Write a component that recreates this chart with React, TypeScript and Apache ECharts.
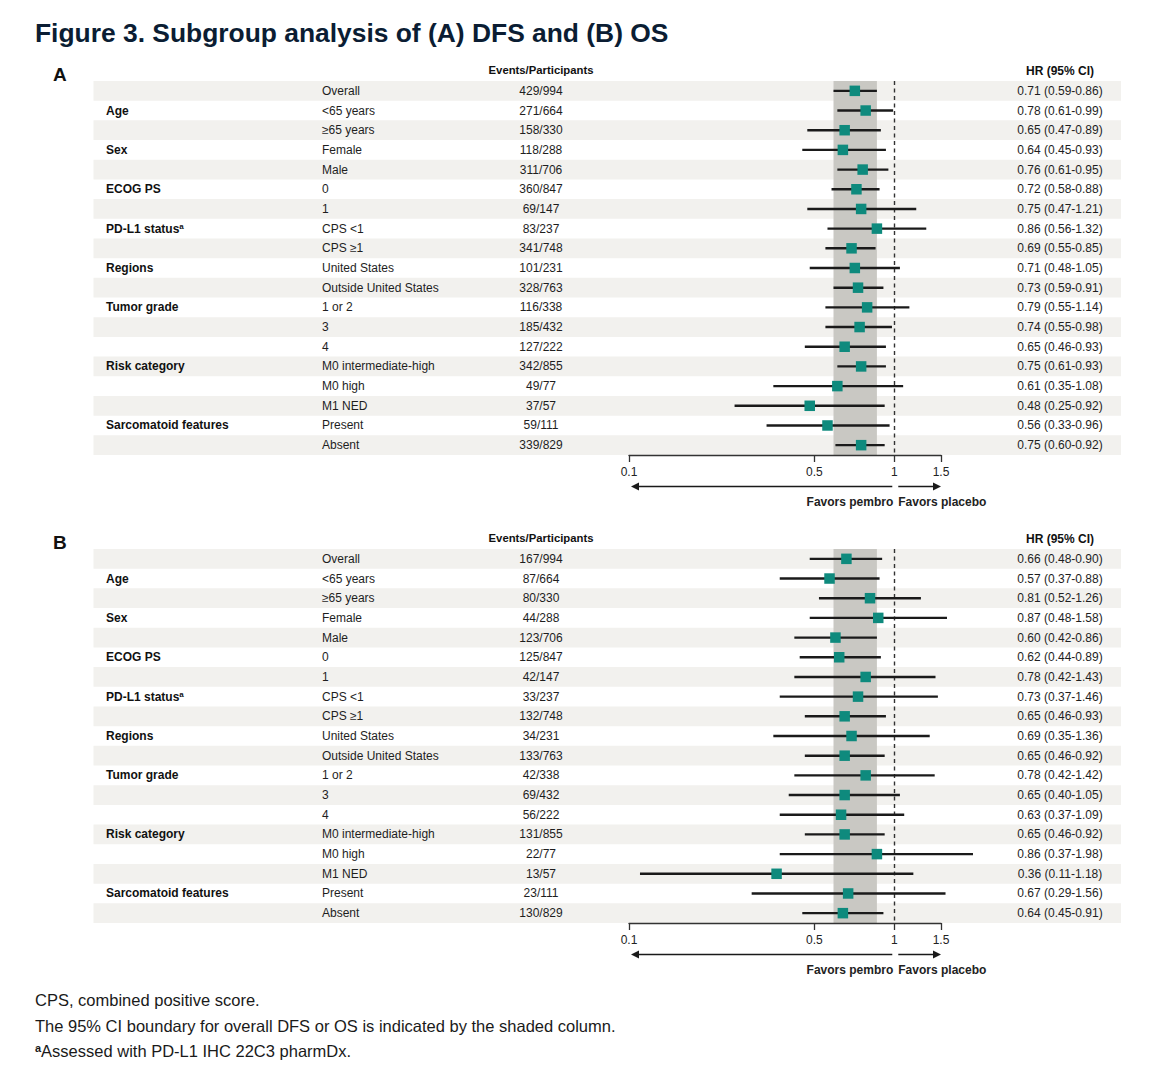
import React, { useEffect, useRef } from "react";
import * as echarts from "echarts";

// ---------- data ----------
const groups = ["", "Age", "", "Sex", "", "ECOG PS", "", "PD-L1 status", "", "Regions", "", "Tumor grade", "", "", "Risk category", "", "", "Sarcomatoid features", ""];
const groupSup = ["", "", "", "", "", "", "", "a", "", "", "", "", "", "", "", "", "", "", ""];
const subgroups = ["Overall", "<65 years", "≥65 years", "Female", "Male", "0", "1", "CPS <1", "CPS ≥1", "United States", "Outside United States", "1 or 2", "3", "4", "M0 intermediate-high", "M0 high", "M1 NED", "Present", "Absent"];

const eventsA = ["429/994", "271/664", "158/330", "118/288", "311/706", "360/847", "69/147", "83/237", "341/748", "101/231", "328/763", "116/338", "185/432", "127/222", "342/855", "49/77", "37/57", "59/111", "339/829"];
const hrA = [0.71, 0.78, 0.65, 0.64, 0.76, 0.72, 0.75, 0.86, 0.69, 0.71, 0.73, 0.79, 0.74, 0.65, 0.75, 0.61, 0.48, 0.56, 0.75];
const loA = [0.59, 0.61, 0.47, 0.45, 0.61, 0.58, 0.47, 0.56, 0.55, 0.48, 0.59, 0.55, 0.55, 0.46, 0.61, 0.35, 0.25, 0.33, 0.60];
const hiA = [0.86, 0.99, 0.89, 0.93, 0.95, 0.88, 1.21, 1.32, 0.85, 1.05, 0.91, 1.14, 0.98, 0.93, 0.93, 1.08, 0.92, 0.96, 0.92];

const eventsB = ["167/994", "87/664", "80/330", "44/288", "123/706", "125/847", "42/147", "33/237", "132/748", "34/231", "133/763", "42/338", "69/432", "56/222", "131/855", "22/77", "13/57", "23/111", "130/829"];
const hrB = [0.66, 0.57, 0.81, 0.87, 0.60, 0.62, 0.78, 0.73, 0.65, 0.69, 0.65, 0.78, 0.65, 0.63, 0.65, 0.86, 0.36, 0.67, 0.64];
const loB = [0.48, 0.37, 0.52, 0.48, 0.42, 0.44, 0.42, 0.37, 0.46, 0.35, 0.46, 0.42, 0.40, 0.37, 0.46, 0.37, 0.11, 0.29, 0.45];
const hiB = [0.90, 0.88, 1.26, 1.58, 0.86, 0.89, 1.43, 1.46, 0.93, 1.36, 0.92, 1.42, 1.05, 1.09, 0.92, 1.98, 1.18, 1.56, 0.91];

const shadeA = [0.59, 0.86];
const shadeB = [0.59, 0.86];
const xTicks = [0.1, 0.5, 1, 1.5];
const xRange = [0.1, 1.5];

const title = "Figure 3. Subgroup analysis of (A) DFS and (B) OS";
const footnotes = ["CPS, combined positive score.", "The 95% CI boundary for overall DFS or OS is indicated by the shaded column."];
const footnoteSup = ["a", "Assessed with PD-L1 IHC 22C3 pharmDx."];

// ---------- layout ----------
const FONT = "'Liberation Sans', Arial, Helvetica, sans-serif";
const BAND_L = 93.5;
const BAND_R = 1121;
const COL_GROUP = 106;
const COL_SUB = 322;
const COL_EVENTS = 541;
const COL_HR = 1060;
const TEAL = "#0e8a7d";
const BAND = "#f2f1ee";
const SHADE = "#c9c8c3";
const INK = "#1e1e1e";

const L = Math.log10;
const fmt = (v: number) => v.toFixed(2);

function panelSeries(k: number, events: string[], hr: number[], lo: number[], hi: number[], shade: number[]) {
  const common = { type: "custom", xAxisIndex: k, yAxisIndex: k, silent: true, encode: { x: 0, y: 1 } };
  return [
    {
      ...common,
      z: 0,
      data: subgroups.map((_, i) => [0, i]),
      renderItem: (params: any, api: any) => {
        const i = api.value(1);
        if (i % 2 === 1) return { type: "group", children: [] };
        const c = api.coord([0, i]);
        const h = api.size([0, 1])[1];
        return { type: "rect", shape: { x: BAND_L, y: c[1] - h / 2, width: BAND_R - BAND_L, height: h }, style: { fill: BAND } };
      },
    },
    {
      ...common,
      z: 1,
      data: [[L(shade[0]), 0, L(shade[1])]],
      renderItem: (params: any, api: any) => {
        const cs = params.coordSys;
        const x0 = api.coord([api.value(0), 0])[0];
        const x1 = api.coord([api.value(2), 0])[0];
        return { type: "rect", shape: { x: x0, y: cs.y, width: x1 - x0, height: cs.height }, style: { fill: SHADE } };
      },
    },
    {
      ...common,
      z: 2,
      data: [[L(1), 0]],
      renderItem: (params: any, api: any) => {
        const cs = params.coordSys;
        const x = Math.round(api.coord([api.value(0), 0])[0]) + 0.5;
        return { type: "line", shape: { x1: x, y1: cs.y, x2: x, y2: cs.y + cs.height }, style: { stroke: "#333", lineWidth: 1.4, lineDash: [4, 3.5] } };
      },
    },
    {
      ...common,
      z: 3,
      data: subgroups.map((_, i) => [0, i]),
      renderItem: (params: any, api: any) => {
        const i = api.value(1);
        const y = api.coord([0, i])[1];
        const children: any[] = [];
        const base = { fill: INK, fontFamily: FONT, fontSize: 12, verticalAlign: "middle" };
        if (groups[i]) {
          const sup = groupSup[i];
          children.push({
            type: "text",
            x: COL_GROUP,
            y,
            style: {
              ...base,
              align: "left",
              text: sup ? `{b|${groups[i]}}{s|${sup}}` : groups[i],
              fontWeight: "bold",
              fill: "#111",
              rich: sup
                ? { b: { fontFamily: FONT, fontSize: 12, fontWeight: "bold", fill: "#111" }, s: { fontFamily: FONT, fontSize: 8, fontWeight: "bold", fill: "#111", verticalAlign: "top" } }
                : undefined,
            },
          });
        }
        children.push({ type: "text", x: COL_SUB, y, style: { ...base, align: "left", text: subgroups[i] } });
        children.push({ type: "text", x: COL_EVENTS, y, style: { ...base, align: "center", text: events[i] } });
        children.push({ type: "text", x: COL_HR, y, style: { ...base, align: "center", text: `${fmt(hr[i])} (${fmt(lo[i])}-${fmt(hi[i])})` } });
        return { type: "group", children };
      },
    },
    {
      ...common,
      z: 4,
      data: hr.map((v, i) => [L(v), i, L(lo[i]), L(hi[i])]),
      renderItem: (params: any, api: any) => {
        const i = api.value(1);
        const c = api.coord([api.value(0), i]);
        const a = api.coord([api.value(2), i]);
        const b = api.coord([api.value(3), i]);
        const s = 10.5;
        return {
          type: "group",
          children: [
            { type: "line", shape: { x1: a[0], y1: c[1], x2: b[0], y2: c[1] }, style: { stroke: "#1a1a1a", lineWidth: 2.4 } },
            { type: "rect", shape: { x: c[0] - s / 2, y: c[1] - s / 2, width: s, height: s }, style: { fill: TEAL } },
          ],
        };
      },
    },
    {
      ...common,
      z: 4,
      data: [[L(xRange[0]), 0, L(1), L(xRange[1])]],
      renderItem: (params: any, api: any) => {
        const cs = params.coordSys;
        const xa = api.coord([api.value(0), 0])[0];
        const x1 = api.coord([api.value(2), 0])[0];
        const xb = api.coord([api.value(3), 0])[0];
        const y = cs.y + cs.height + 31.5;
        const st = { stroke: "#1a1a1a", lineWidth: 1.5 };
        return {
          type: "group",
          children: [
            { type: "line", shape: { x1: xa + 6, y1: y, x2: x1 - 2, y2: y }, style: st },
            { type: "polygon", shape: { points: [[xa + 2, y], [xa + 10, y - 4], [xa + 10, y + 4]] }, style: { fill: "#1a1a1a" } },
            { type: "line", shape: { x1: x1 + 4, y1: y, x2: xb - 6, y2: y }, style: st },
            { type: "polygon", shape: { points: [[xb, y], [xb - 8, y - 4], [xb - 8, y + 4]] }, style: { fill: "#1a1a1a" } },
            { type: "text", x: x1 - 1, y: y + 15, style: { text: "Favors pembro", align: "right", verticalAlign: "middle", fontFamily: FONT, fontSize: 12, fontWeight: "bold", fill: "#222" } },
            { type: "text", x: x1 + 4, y: y + 15, style: { text: "Favors placebo", align: "left", verticalAlign: "middle", fontFamily: FONT, fontSize: 12, fontWeight: "bold", fill: "#222" } },
          ],
        };
      },
    },
  ];
}

function xAxisFor(k: number) {
  const ticks = xTicks.map((v) => L(v));
  return {
    type: "value",
    gridIndex: k,
    min: L(xRange[0]),
    max: L(xRange[1]),
    axisLine: { show: true, lineStyle: { color: "#333", width: 1.3 } },
    axisTick: { show: true, length: 7, customValues: ticks, lineStyle: { color: "#333", width: 1.3 } },
    axisLabel: {
      customValues: ticks,
      margin: 11,
      fontFamily: FONT,
      fontSize: 12,
      color: "#222",
      formatter: (v: number) => String(Number(Math.pow(10, v).toFixed(2))),
    },
    splitLine: { show: false },
    z: 5,
  };
}

function yAxisFor(k: number) {
  return { type: "category", gridIndex: k, data: subgroups, inverse: true, show: false };
}

function headerTexts(yTop: number, letter: string) {
  return [
    { type: "text", x: 53, y: yTop + 4, style: { text: letter, fontFamily: FONT, fontSize: 19, fontWeight: "bold", fill: "#111", verticalAlign: "middle" } },
    { type: "text", x: COL_EVENTS, y: yTop, style: { text: "Events/Participants", fontFamily: FONT, fontSize: 11.3, fontWeight: "bold", fill: "#111", align: "center", verticalAlign: "middle" } },
    { type: "text", x: COL_HR, y: yTop + 1, style: { text: "HR (95% CI)", fontFamily: FONT, fontSize: 12, fontWeight: "bold", fill: "#111", align: "center", verticalAlign: "middle" } },
  ];
}

export default function App() {
  const ref = useRef<HTMLDivElement>(null);
  useEffect(() => {
    if (!ref.current) return;
    const chart = echarts.init(ref.current, undefined, { renderer: "svg" });
    const option: any = {
      animation: false,
      backgroundColor: "#ffffff",
      textStyle: { fontFamily: FONT },
      grid: [
        { left: 629, width: 312, top: 81, height: 374 },
        { left: 629, width: 312, top: 549, height: 374 },
      ],
      xAxis: [xAxisFor(0), xAxisFor(1)],
      yAxis: [yAxisFor(0), yAxisFor(1)],
      series: [
        ...panelSeries(0, eventsA, hrA, loA, hiA, shadeA),
        ...panelSeries(1, eventsB, hrB, loB, hiB, shadeB),
      ],
      graphic: [
        { type: "text", x: 35, y: 33, style: { text: title, fontFamily: FONT, fontSize: 26.4, fontWeight: "bold", fill: "#0b1d33", verticalAlign: "middle" } },
        ...headerTexts(70, "A"),
        ...headerTexts(538, "B"),
        ...footnotes.map((t, i) => ({
          type: "text",
          x: 35,
          y: 1000 + i * 25.5,
          style: { text: t, fontFamily: FONT, fontSize: 16.5, fill: "#1a1a1a", verticalAlign: "middle" },
        })),
        {
          type: "text",
          x: 35,
          y: 1051,
          style: {
            text: `{s|${footnoteSup[0]}}{m|${footnoteSup[1]}}`,
            verticalAlign: "middle",
            rich: {
              s: { fontFamily: FONT, fontSize: 11, fontWeight: "bold", fill: "#1a1a1a", verticalAlign: "top" },
              m: { fontFamily: FONT, fontSize: 16.5, fill: "#1a1a1a" },
            },
          },
        },
      ],
    };
    chart.setOption(option);
    return () => chart.dispose();
  }, []);
  return <div ref={ref} style={{ position: "absolute", left: 0, top: 0, width: 1174, height: 1080, background: "#fff" }} />;
}
